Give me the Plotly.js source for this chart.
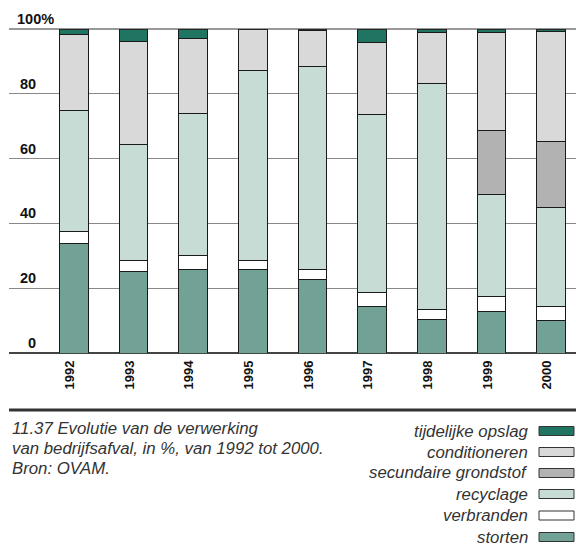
<!DOCTYPE html>
<html>
<head>
<meta charset="utf-8">
<script src="https://cdn.plot.ly/plotly-3.0.1.min.js"></script>
<style>html,body{margin:0;padding:0;background:#fff;}#chart{width:576px;height:552px;}</style>
</head>
<body>
<div id="chart"></div>
<script>
const years = ['1992','1993','1994','1995','1996','1997','1998','1999','2000'];
const storten = [33.7,25.1,25.7,25.7,22.8,14.5,10.2,12.8,9.9];
const verbranden = [3.8,3.4,4.3,2.8,3.1,4.1,3.2,4.5,4.6];
const recyclage = [37.3,35.7,44.0,58.6,62.5,54.9,69.7,31.5,30.4];
const secundaireGrondstof = [0,0,0,0,0,0,0,19.8,20.5];
const conditioneren = [23.4,31.8,23.0,12.9,11.1,22.3,15.7,30.2,33.9];
const tijdelijkeOpslag = [1.8,4.0,3.0,0,0.5,4.2,1.2,1.2,0.7];

const seriesNames = ['storten','verbranden','recyclage','secundaire grondstof','conditioneren','tijdelijke opslag'];
const seriesValues = [storten, verbranden, recyclage, secundaireGrondstof, conditioneren, tijdelijkeOpslag];
const seriesColors = ['#72a295','#ffffff','#c8dcd6','#b2b2b2','#d9d9d9','#1f7561'];

const yTickValues = [0,20,40,60,80,100];
const yTickLabels = ['0','20','40','60','80','100%'];

const captionLines = ['11.37 Evolutie van de verwerking','van bedrijfsafval, in %, van 1992 tot 2000.','Bron: OVAM.'];

// geometry helpers (pixel -> paper)
const L = 9, R = 0, T = 29, B = 199, W = 576, H = 552;
const pw = W - L - R, ph = H - T - B;
const px = x => (x - L) / pw;
const py = y => (H - B - y) / ph;

const traces = seriesNames.map((n, i) => ({
  type: 'bar', name: n, x: years, y: seriesValues[i],
  marker: {color: seriesColors[i], line: {color: '#1a1a1a', width: 1}},
  width: 0.48, hoverinfo: 'skip'
}));

const annotations = [];
yTickValues.forEach((v, i) => {
  const isPct = yTickLabels[i].indexOf('%') >= 0;
  annotations.push({
    xref: 'paper', yref: 'y', x: isPct ? px(15) : px(38), y: v,
    xanchor: isPct ? 'left' : 'right', yanchor: 'bottom', yshift: 0,
    text: '<b>' + yTickLabels[i] + '</b>', showarrow: false,
    font: {size: 14.5, color: '#111', family: 'Liberation Sans, Arial, sans-serif'}
  });
});
captionLines.forEach((t, i) => {
  annotations.push({
    xref: 'paper', yref: 'paper', x: px(10), y: py(428 + 20 * i),
    xanchor: 'left', yanchor: 'middle', text: t, showarrow: false,
    font: {size: 16.8, color: '#333', style: 'italic'}
  });
});
const shapes = [
  {type: 'line', xref: 'paper', yref: 'paper', x0: 0, x1: 1, y0: 1, y1: 1, line: {color: '#333', width: 1}},
  {type: 'line', xref: 'paper', yref: 'paper', x0: 0, x1: 1, y0: py(410), y1: py(410), line: {color: '#333', width: 3}}
];
const legendRowsY = [537, 515.5, 494, 473, 452, 431];
seriesNames.forEach((n, i) => {
  const cy = legendRowsY[i];
  annotations.push({
    xref: 'paper', yref: 'paper', x: px(530), y: py(cy),
    xanchor: 'right', yanchor: 'middle', text: n, showarrow: false,
    font: {size: 16.8, color: '#333', style: 'italic'}
  });
  shapes.push({
    type: 'rect', xref: 'paper', yref: 'paper', x0: px(539), x1: px(574),
    y0: py(cy + 4.5), y1: py(cy - 4.5),
    fillcolor: seriesColors[i], line: {color: '#333', width: 1}
  });
});

const layout = {
  width: W, height: H,
  margin: {l: L, r: R, t: T, b: B, pad: 0},
  paper_bgcolor: '#fff', plot_bgcolor: '#fff',
  font: {family: 'Liberation Sans, Arial, sans-serif', color: '#222'},
  barmode: 'stack', showlegend: false,
  xaxis: {
    type: 'category', range: [-1.086, 8.419], showgrid: false, zeroline: false,
    showline: false, ticks: '', tickangle: -90, ticklabelstandoff: 4, ticklabelshift: -4,
    tickfont: {size: 13, color: '#111', weight: 'bold'}, fixedrange: true
  },
  yaxis: {
    range: [0, 100], tickvals: yTickValues, showticklabels: false, ticks: '',
    showgrid: true, gridcolor: '#888', gridwidth: 1.3, zeroline: true, zerolinecolor: '#444', zerolinewidth: 1.3,
    showline: false, fixedrange: true
  },
  annotations: annotations,
  shapes: shapes
};
Plotly.newPlot('chart', traces, layout, {displayModeBar: false, staticPlot: true});
</script>
</body>
</html>
